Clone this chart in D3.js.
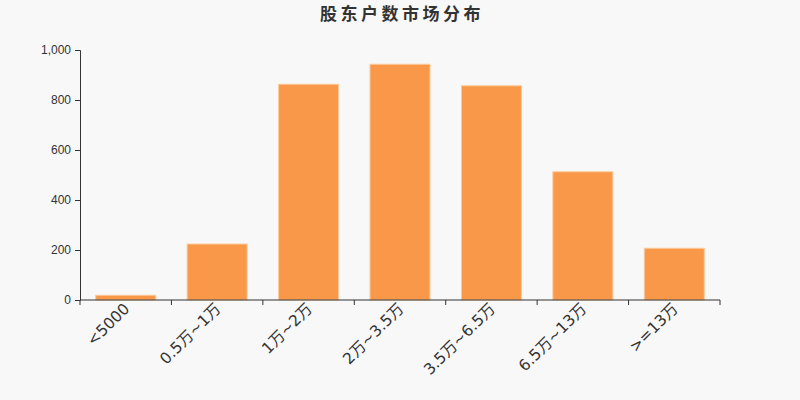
<!DOCTYPE html>
<html>
<head>
<meta charset="utf-8">
<script src="https://cdn.jsdelivr.net/npm/d3@7/dist/d3.min.js"></script>
<style>
  body { margin: 0; background: #f8f8f8; }
  svg { display: block; font-family: "DejaVu Sans", "Noto Sans CJK SC", sans-serif; }
</style>
</head>
<body>
<div id="chart"></div>
<script>
const title = "股东户数市场分布";
const categories = ["<5000", "0.5万~1万", "1万~2万", "2万~3.5万", "3.5万~6.5万", "6.5万~13万", ">=13万"];
const values = [19, 224, 863, 943, 857, 513, 207];
const yTicks = [0, 200, 400, 600, 800, 1000];

const width = 800, height = 400;
const margin = { top: 50, right: 80, bottom: 100, left: 80 };
const innerW = width - margin.left - margin.right;
const innerH = height - margin.top - margin.bottom;

const svg = d3.select("#chart")
  .append("svg")
  .attr("width", width)
  .attr("height", height)
  .style("background-color", "#f8f8f8");

// Title
svg.append("text")
  .attr("x", width / 2 + 2)
  .attr("y", 20)
  .attr("text-anchor", "middle")
  .style("font-size", "17px")
  .style("font-weight", "bold")
  .style("letter-spacing", "3.5px")
  .style("fill", "#333")
  .text(title);

const g = svg.append("g")
  .attr("transform", `translate(${margin.left},${margin.top})`);

const x = d3.scaleBand()
  .domain(categories)
  .range([0, innerW])
  .paddingInner(0.344)
  .paddingOuter(0.172);

const xb = d3.scaleBand().domain(categories).range([0, innerW]);

const y = d3.scaleLinear()
  .domain([0, 1000])
  .range([innerH, 0]);

// Bars
g.selectAll(".bar")
  .data(values)
  .enter()
  .append("rect")
  .attr("class", "bar")
  .attr("x", (d, i) => x(categories[i]))
  .attr("width", x.bandwidth())
  .attr("y", d => y(d))
  .attr("height", d => innerH - y(d))
  .attr("fill", "#f89848")
  .attr("stroke", "#fbc99c")
  .attr("stroke-width", 1);

// Y axis
const yAxis = g.append("g")
  .call(d3.axisLeft(y).tickValues(yTicks).tickSize(5).tickPadding(4).tickFormat(d3.format(",")));
yAxis.selectAll("text").style("font-size", "12px").style("fill", "#333");
yAxis.selectAll("line, path").attr("stroke", "#333");

// X axis with boundary ticks
const xAxis = g.append("g")
  .attr("transform", `translate(0,${innerH})`);
xAxis.append("line")
  .attr("x1", 0).attr("x2", innerW)
  .attr("stroke", "#333");
xAxis.selectAll(".tick")
  .data(categories.concat(["__end"]))
  .enter()
  .append("line")
  .attr("x1", (d, i) => i < categories.length ? xb(d) : innerW)
  .attr("x2", (d, i) => i < categories.length ? xb(d) : innerW)
  .attr("y1", 0).attr("y2", 5)
  .attr("stroke", "#333");
xAxis.selectAll(".xlabel")
  .data(categories)
  .enter()
  .append("text")
  .attr("class", "xlabel")
  .attr("transform", d => `translate(${xb(d) + xb.bandwidth() / 2 - 3},${2}) rotate(-45)`)
  .attr("text-anchor", "end")
  .attr("dy", "0.7em")
  .style("font-size", "15.5px")
  .style("fill", "#333")
  .text(d => d);
</script>
</body>
</html>
